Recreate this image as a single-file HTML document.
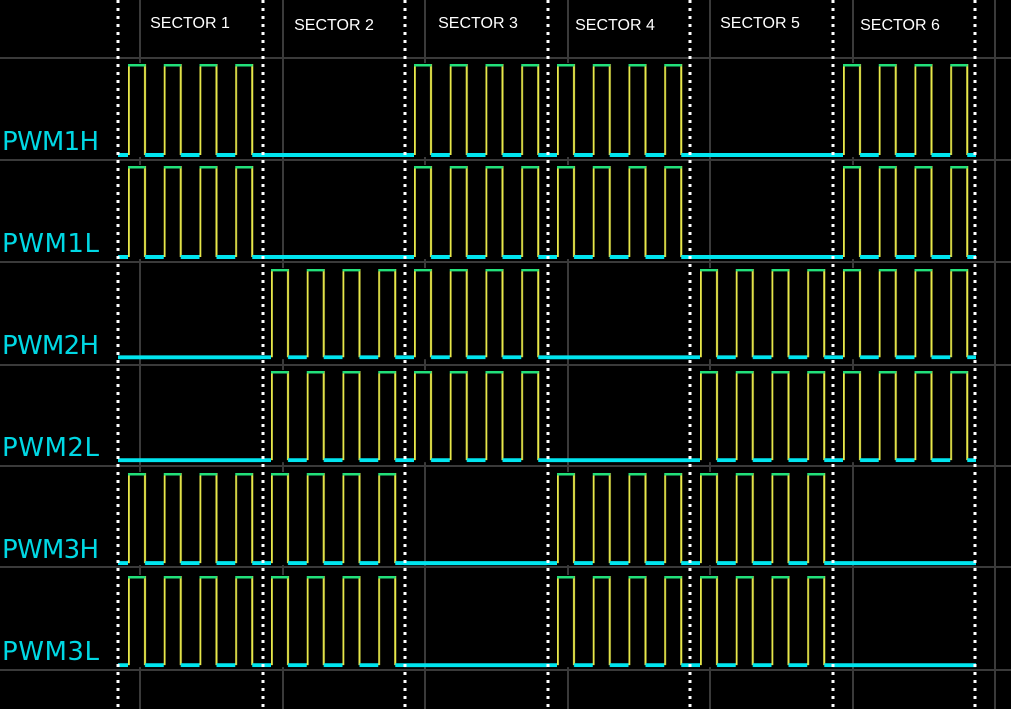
<!DOCTYPE html>
<html><head><meta charset="utf-8"><style>
html,body{margin:0;padding:0;background:#000;}
svg{display:block}
</style></head><body>
<svg width="1011" height="709" viewBox="0 0 1011 709" xmlns="http://www.w3.org/2000/svg">
<defs>
<pattern id="p" patternUnits="userSpaceOnUse" x="128" y="0" width="35.75" height="100">
  <rect x="0" y="0" width="35.75" height="100" fill="#000"/>
  <line x1="0.8" y1="0" x2="0.8" y2="91" stroke="#e8e84a" stroke-width="2"/>
  <line x1="17" y1="0" x2="17" y2="91" stroke="#e8e84a" stroke-width="2"/>
  <line x1="0" y1="1" x2="17.5" y2="1" stroke="#22e07a" stroke-width="3"/>
  <line x1="17" y1="91" x2="36" y2="91" stroke="#00e5ef" stroke-width="4"/>
</pattern>
</defs>
<rect width="1011" height="709" fill="#000"/>
<!-- grid -->
<g stroke="#3a3a3a" stroke-width="2">
  <line x1="0" y1="58" x2="1011" y2="58"/>
  <line x1="0" y1="160" x2="1011" y2="160"/>
  <line x1="0" y1="262" x2="1011" y2="262"/>
  <line x1="0" y1="365" x2="1011" y2="365"/>
  <line x1="0" y1="466" x2="1011" y2="466"/>
  <line x1="0" y1="567" x2="1011" y2="567"/>
  <line x1="0" y1="670" x2="1011" y2="670"/>
  <line x1="140" y1="0" x2="140" y2="709"/>
  <line x1="283" y1="0" x2="283" y2="709"/>
  <line x1="425" y1="0" x2="425" y2="709"/>
  <line x1="568" y1="0" x2="568" y2="709"/>
  <line x1="710" y1="0" x2="710" y2="709"/>
  <line x1="853" y1="0" x2="853" y2="709"/>
  <line x1="995" y1="0" x2="995" y2="709"/>
</g>
<!-- rows: sectors x: 118,261,404,547,690,833,976 -->
<!-- Row1 PWM1H: S1,S3,S4,S6 -->
<g transform="translate(0,64)">
  <rect x="118" y="-1" width="143" height="94" fill="url(#p)"/>
  <rect x="404" y="-1" width="286" height="94" fill="url(#p)"/>
  <rect x="833" y="-1" width="143" height="94" fill="url(#p)"/>
  <line x1="261" y1="91" x2="404" y2="91" stroke="#00e5ef" stroke-width="4"/>
  <line x1="690" y1="91" x2="833" y2="91" stroke="#00e5ef" stroke-width="4"/>
</g>
<g transform="translate(0,166)">
  <rect x="118" y="-1" width="143" height="94" fill="url(#p)"/>
  <rect x="404" y="-1" width="286" height="94" fill="url(#p)"/>
  <rect x="833" y="-1" width="143" height="94" fill="url(#p)"/>
  <line x1="261" y1="91" x2="404" y2="91" stroke="#00e5ef" stroke-width="4"/>
  <line x1="690" y1="91" x2="833" y2="91" stroke="#00e5ef" stroke-width="4"/>
</g>
<!-- Row3/4 PWM2: S2,S3,S5,S6 -->
<g transform="translate(0,269) scale(1,0.97)">
  <rect x="261" y="-1" width="286" height="94" fill="url(#p)"/>
  <rect x="690" y="-1" width="286" height="94" fill="url(#p)"/>
  <line x1="118" y1="91" x2="261" y2="91" stroke="#00e5ef" stroke-width="4"/>
  <line x1="547" y1="91" x2="690" y2="91" stroke="#00e5ef" stroke-width="4"/>
</g>
<g transform="translate(0,371) scale(1,0.98)">
  <rect x="261" y="-1" width="286" height="94" fill="url(#p)"/>
  <rect x="690" y="-1" width="286" height="94" fill="url(#p)"/>
  <line x1="118" y1="91" x2="261" y2="91" stroke="#00e5ef" stroke-width="4"/>
  <line x1="547" y1="91" x2="690" y2="91" stroke="#00e5ef" stroke-width="4"/>
</g>
<!-- Row5/6 PWM3: S1,S2,S4,S5 -->
<g transform="translate(0,473) scale(1,0.99)">
  <rect x="118" y="-1" width="286" height="94" fill="url(#p)"/>
  <rect x="547" y="-1" width="286" height="94" fill="url(#p)"/>
  <line x1="404" y1="91" x2="547" y2="91" stroke="#00e5ef" stroke-width="4"/>
  <line x1="833" y1="91" x2="976" y2="91" stroke="#00e5ef" stroke-width="4"/>
</g>
<g transform="translate(0,576) scale(1,0.98)">
  <rect x="118" y="-1" width="286" height="94" fill="url(#p)"/>
  <rect x="547" y="-1" width="286" height="94" fill="url(#p)"/>
  <line x1="404" y1="91" x2="547" y2="91" stroke="#00e5ef" stroke-width="4"/>
  <line x1="833" y1="91" x2="976" y2="91" stroke="#00e5ef" stroke-width="4"/>
</g>
<!-- dotted sector lines -->
<g stroke="#fff" stroke-width="3" stroke-dasharray="3 5">
  <line x1="118" y1="0" x2="118" y2="709"/>
  <line x1="263" y1="0" x2="263" y2="709"/>
  <line x1="405" y1="0" x2="405" y2="709"/>
  <line x1="548" y1="0" x2="548" y2="709"/>
  <line x1="690" y1="0" x2="690" y2="709"/>
  <line x1="833" y1="0" x2="833" y2="709"/>
  <line x1="975" y1="0" x2="975" y2="709"/>
</g>
<!-- sector labels -->
<g fill="#fff" font-family="Liberation Sans, sans-serif" font-size="16" text-anchor="middle">
  <text x="190" y="28">SECTOR 1</text>
  <text x="334" y="30">SECTOR 2</text>
  <text x="478" y="28">SECTOR 3</text>
  <text x="615" y="30">SECTOR 4</text>
  <text x="760" y="28">SECTOR 5</text>
  <text x="900" y="30">SECTOR 6</text>
</g>
<!-- row labels -->
<g fill="#00d8e4" font-family="DejaVu Sans, Liberation Sans, sans-serif" font-size="26" letter-spacing="1" font-weight="normal">
  <text x="2" y="150" textLength="98">PWM1H</text>
  <text x="2" y="252" textLength="98">PWM1L</text>
  <text x="2" y="354" textLength="98">PWM2H</text>
  <text x="2" y="456" textLength="98">PWM2L</text>
  <text x="2" y="558" textLength="98">PWM3H</text>
  <text x="2" y="660" textLength="98">PWM3L</text>
</g>
</svg>
</body></html>
